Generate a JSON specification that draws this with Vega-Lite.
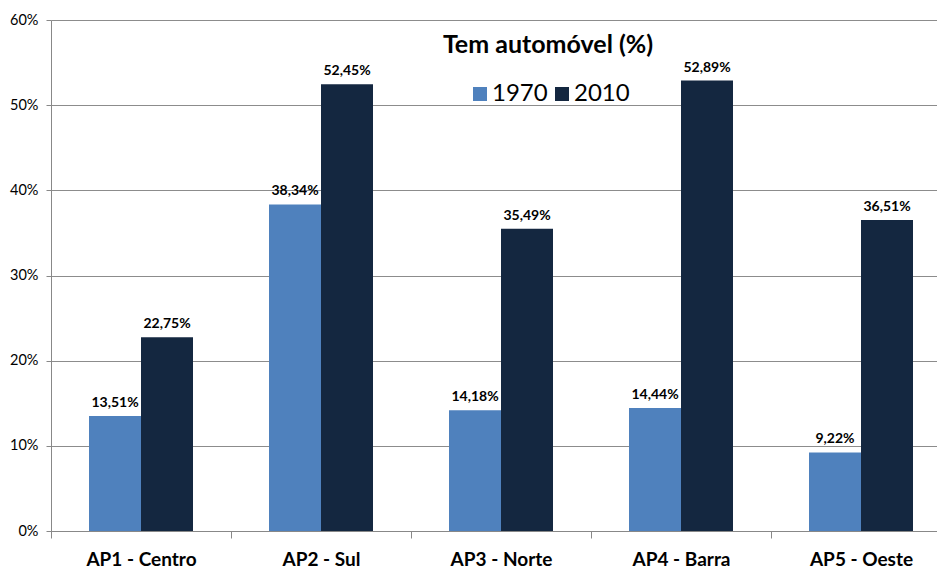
{
  "$schema": "https://vega.github.io/schema/vega-lite/v6.json",
  "autosize": {"type": "none"},
  "width": 886,
  "height": 511,
  "padding": {"left": 51, "top": 20, "right": 0, "bottom": 37},
  "background": "white",
  "config": {
    "view": {"stroke": null},
    "font": "Lato",
    "locale": {"number": {"decimal": ",", "thousands": ".", "grouping": [3], "currency": ["R$", ""]}}
  },
  "title": {
    "text": "Tem automóvel (%)",
    "fontSize": 25,
    "fontWeight": "bold",
    "font": "Lato",
    "color": "black",
    "anchor": "middle",
    "baseline": "alphabetic",
    "offset": 0,
    "dx": 54,
    "dy": 66
  },
  "data": {
    "values": [
      {"regiao": "AP1 - Centro", "ano": "1970", "valor": 0.1351},
      {"regiao": "AP1 - Centro", "ano": "2010", "valor": 0.2275},
      {"regiao": "AP2 - Sul", "ano": "1970", "valor": 0.3834},
      {"regiao": "AP2 - Sul", "ano": "2010", "valor": 0.5245},
      {"regiao": "AP3 - Norte", "ano": "1970", "valor": 0.1418},
      {"regiao": "AP3 - Norte", "ano": "2010", "valor": 0.3549},
      {"regiao": "AP4 - Barra", "ano": "1970", "valor": 0.1444},
      {"regiao": "AP4 - Barra", "ano": "2010", "valor": 0.5289},
      {"regiao": "AP5 - Oeste", "ano": "1970", "valor": 0.0922},
      {"regiao": "AP5 - Oeste", "ano": "2010", "valor": 0.3651}
    ]
  },
  "encoding": {
    "x": {
      "field": "regiao",
      "type": "nominal",
      "sort": null,
      "title": null,
      "scale": {"range": [0, 900], "paddingInner": 0, "paddingOuter": 0},
      "axis": {
        "tickBand": "extent",
        "labelAngle": 0,
        "labelFont": "Lato",
        "labelFontSize": 19,
        "labelFontWeight": "bold",
        "labelColor": "black",
        "labelPadding": 12,
        "tickSize": 7,
        "tickColor": "#888888",
        "domainColor": "#888888",
        "grid": false
      }
    },
    "xOffset": {
      "field": "ano",
      "type": "nominal",
      "scale": {"paddingInner": 0, "paddingOuter": 0.7308}
    },
    "y": {
      "field": "valor",
      "type": "quantitative",
      "title": null,
      "scale": {"domain": [0, 0.6], "nice": false},
      "axis": {
        "values": [0, 0.1, 0.2, 0.3, 0.4, 0.5, 0.6],
        "format": ".0%",
        "labelFont": "Lato",
        "labelFontSize": 14.5,
        "labelColor": "black",
        "labelPadding": 8,
        "tickSize": 5,
        "tickColor": "#888888",
        "domainColor": "#888888",
        "gridColor": "#8c8c8c",
        "gridWidth": 1
      }
    }
  },
  "layer": [
    {
      "mark": {"type": "bar"},
      "encoding": {
        "color": {
          "field": "ano",
          "type": "nominal",
          "scale": {"domain": ["1970", "2010"], "range": ["#4F81BD", "#142740"]},
          "legend": {
            "title": null,
            "orient": "none",
            "legendX": 417,
            "legendY": 62,
            "direction": "horizontal",
            "symbolType": "square",
            "symbolSize": 196,
            "symbolStrokeWidth": 0,
            "labelFont": "Lato",
            "labelFontSize": 24,
            "labelColor": "black",
            "labelOffset": 0,
            "columnPadding": 2
          }
        }
      }
    },
    {
      "mark": {"type": "text", "dy": -9, "baseline": "alphabetic", "fontSize": 14, "fontWeight": "bold", "font": "Lato", "color": "black"},
      "encoding": {
        "text": {"field": "valor", "type": "quantitative", "format": ".2%"}
      }
    }
  ]
}
